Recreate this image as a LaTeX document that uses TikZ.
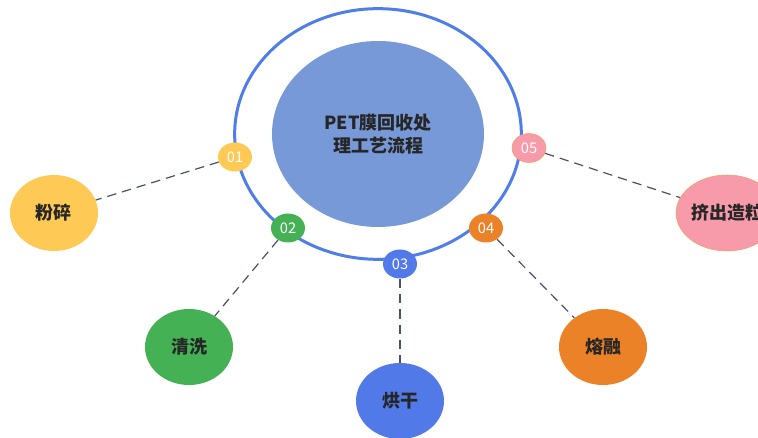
\documentclass[tikz,border=0pt]{standalone}
\usepackage{fontspec}
\setmainfont{Noto Sans CJK SC}
\usetikzlibrary{shapes.geometric}
\definecolor{cyellow}{HTML}{FFC955}
\definecolor{cgreen}{HTML}{45B155}
\definecolor{cblue}{HTML}{5179E8}
\definecolor{corange}{HTML}{EB8227}
\definecolor{cpink}{HTML}{F79AAA}
\definecolor{pinkrim}{HTML}{F0A060}
\definecolor{ringblue}{HTML}{4F7EE8}
\definecolor{coreblue}{HTML}{7899D7}
\definecolor{linkgray}{HTML}{4A5068}
\tikzset{
  stage/.style={ellipse,minimum width=66pt,minimum height=57pt,inner sep=0pt,
    font=\bfseries\fontsize{13.5}{16}\selectfont,text=black!85},
  badge/.style={ellipse,minimum width=25.5pt,minimum height=21.75pt,inner sep=0pt,
    text=white,font=\fontsize{11}{13}\selectfont},
  link/.style={draw=linkgray,line width=.9pt,dash pattern=on 7pt off 4.5pt}
}
\begin{document}
\begin{tikzpicture}[x=.75pt,y=-.75pt]
	\useasboundingbox (0,0) rectangle (758,438);
	\node[ellipse,draw=ringblue,line width=2.25pt,minimum width=215pt,minimum height=188pt] (ring) at (378,134) {};
	\node[ellipse,fill=coreblue,minimum width=159pt,minimum height=139.5pt,align=center,
	  font=\bfseries\fontsize{13.5}{17.25}\selectfont,text=black!85] (core) at (378,134) {PET膜回收处\\理工艺流程};
	\foreach \n/\p/\c/\d/\s/\q in {1/{235,157}/cyellow/none/粉碎/{54,213},
	  2/{288,228}/cgreen/none/清洗/{189,347},
	  3/{400,264}/cblue/none/烘干/{400,401},
	  4/{486,228}/corange/none/熔融/{603,347},
	  5/{529,148}/cpink/pinkrim/挤出造粒/{727,213}}
	{
	  \node[badge,fill=\c,draw=\d] (n\n) at (\p) {0\n};
	  \node[stage,fill=\c,draw=\d] (s\n) at (\q) {\s};
	  \draw[link] (n\n) -- (s\n);
	}
\end{tikzpicture}
\end{document}
